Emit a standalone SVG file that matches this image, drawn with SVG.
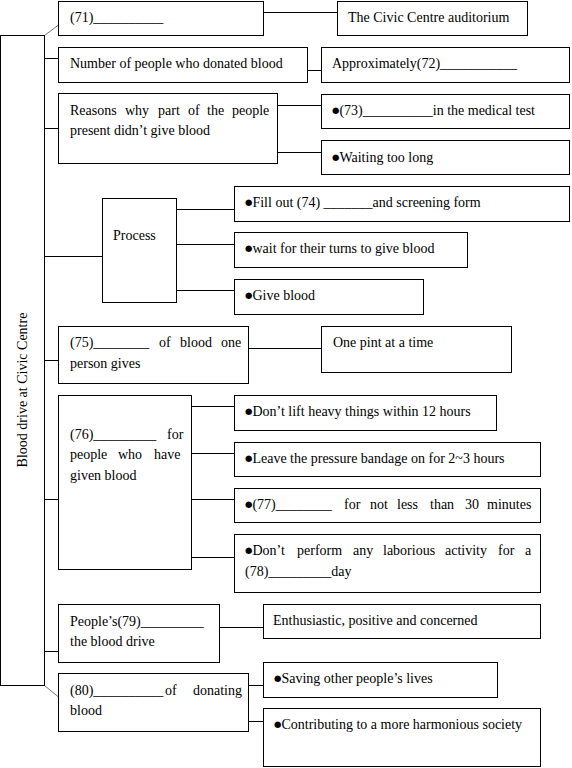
<svg xmlns="http://www.w3.org/2000/svg" width="572" height="768" viewBox="0 0 572 768">
<style>
rect{fill:#fff;stroke:#000;stroke-width:1}
text{font-family:"Liberation Serif","Times New Roman",serif;font-size:14px;fill:#000}
.c line{stroke:#000;stroke-width:1}
.c line.g{stroke:#777}
.b{font-family:"DejaVu Sans",sans-serif;font-size:8.5px;baseline-shift:2px}
</style>
<rect x="0" y="0" width="572" height="768" style="stroke:none"/>
<g class="c" id="connectors">
<line x1="263" y1="12.5" x2="337" y2="12.5"/>
<line x1="44" y1="58.5" x2="58" y2="58.5"/>
<line x1="307" y1="70.5" x2="321" y2="70.5"/>
<line x1="44" y1="128.5" x2="58" y2="128.5"/>
<line x1="277" y1="105.5" x2="321" y2="105.5"/>
<line x1="277" y1="152.5" x2="321" y2="152.5"/>
<line x1="44" y1="256.5" x2="102" y2="256.5"/>
<line x1="176" y1="209.5" x2="234" y2="209.5"/>
<line x1="176" y1="244.5" x2="234" y2="244.5"/>
<line x1="176" y1="290.5" x2="234" y2="290.5"/>
<line x1="44" y1="360.5" x2="58" y2="360.5"/>
<line x1="248" y1="348.5" x2="321" y2="348.5"/>
<line x1="44" y1="499.5" x2="58" y2="499.5"/>
<line x1="191" y1="406.5" x2="234" y2="406.5"/>
<line x1="191" y1="453.5" x2="234" y2="453.5"/>
<line x1="191" y1="499.5" x2="234" y2="499.5"/>
<line x1="191" y1="557.5" x2="234" y2="557.5"/>
<line x1="44" y1="651.5" x2="58" y2="651.5"/>
<line x1="219" y1="627.5" x2="263" y2="627.5"/>
<line x1="248" y1="685.5" x2="263" y2="685.5"/>
<line x1="248" y1="721.5" x2="263" y2="721.5"/>
<line class="g" x1="44.5" y1="35.5" x2="58.5" y2="25"/>
<line class="g" x1="44.5" y1="685.5" x2="58.5" y2="697"/>
</g>
<g id="root">
<rect x="0.5" y="35.5" width="44" height="650"/>
<text transform="translate(27,390) rotate(-90)" text-anchor="middle">Blood drive at Civic Centre</text>
</g>
<g id="n71">
<rect x="58.5" y="1.5" width="205" height="34"/>
<text x="70" y="22">(71)__________</text>
</g>
<g id="civic">
<rect x="337.5" y="1.5" width="190" height="34"/>
<text x="348" y="22">The Civic Centre auditorium</text>
</g>
<g id="number">
<rect x="58.5" y="47.5" width="249" height="35"/>
<text x="70" y="68">Number of people who donated blood</text>
</g>
<g id="n72">
<rect x="321.5" y="47.5" width="248" height="35"/>
<text x="332" y="68">Approximately(72)___________</text>
</g>
<g id="reasons">
<rect x="58.5" y="93.5" width="219" height="70"/>
<text y="115"><tspan x="70">Reasons</tspan><tspan x="125">why</tspan><tspan x="158">part</tspan><tspan x="188">of</tspan><tspan x="207">the</tspan><tspan x="232">people</tspan></text>
<text x="70" y="135">present didn’t give blood</text>
</g>
<g id="n73">
<rect x="321.5" y="94.5" width="248" height="34"/>
<text x="332" y="115"><tspan class="b">●</tspan>(73)__________in the medical test</text>
</g>
<g id="waiting">
<rect x="321.5" y="140.5" width="248" height="34"/>
<text x="332" y="162"><tspan class="b">●</tspan>Waiting too long</text>
</g>
<g id="process">
<rect x="102.5" y="198.5" width="74" height="104"/>
<text x="113" y="240">Process</text>
</g>
<g id="fillout">
<rect x="234.5" y="186.5" width="335" height="35"/>
<text x="245" y="207"><tspan class="b">●</tspan>Fill out (74) _______and screening form</text>
</g>
<g id="wait">
<rect x="234.5" y="232.5" width="233" height="35"/>
<text x="245" y="253"><tspan class="b">●</tspan>wait for their turns to give blood</text>
</g>
<g id="give">
<rect x="234.5" y="279.5" width="189" height="35"/>
<text x="245" y="300"><tspan class="b">●</tspan>Give blood</text>
</g>
<g id="n75">
<rect x="58.5" y="326.5" width="190" height="57"/>
<text y="347"><tspan x="70">(75)________</tspan><tspan x="159">of</tspan><tspan x="180">blood</tspan><tspan x="221">one</tspan></text>
<text x="70" y="368">person gives</text>
</g>
<g id="pint">
<rect x="321.5" y="326.5" width="190" height="46"/>
<text x="333" y="347">One pint at a time</text>
</g>
<g id="n76">
<rect x="58.5" y="395.5" width="133" height="174"/>
<text y="439"><tspan x="70">(76)_________</tspan><tspan x="167">for</tspan></text>
<text y="459"><tspan x="70">people</tspan><tspan x="118">who</tspan><tspan x="154">have</tspan></text>
<text x="70" y="480">given blood</text>
</g>
<g id="lift">
<rect x="234.5" y="395.5" width="262" height="35"/>
<text x="245" y="416"><tspan class="b">●</tspan>Don’t lift heavy things within 12 hours</text>
</g>
<g id="bandage">
<rect x="234.5" y="442.5" width="306" height="34"/>
<text x="245" y="463"><tspan class="b">●</tspan>Leave the pressure bandage on for 2~3 hours</text>
</g>
<g id="n77">
<rect x="234.5" y="488.5" width="306" height="34"/>
<text y="509"><tspan x="245"><tspan class="b">●</tspan>(77)________</tspan><tspan x="344">for</tspan><tspan x="370">not</tspan><tspan x="397">less</tspan><tspan x="430">than</tspan><tspan x="465">30</tspan><tspan x="487">minutes</tspan></text>
</g>
<g id="n78">
<rect x="234.5" y="534.5" width="306" height="58"/>
<text y="555"><tspan x="245"><tspan class="b">●</tspan>Don’t</tspan><tspan x="297">perform</tspan><tspan x="353">any</tspan><tspan x="383">laborious</tspan><tspan x="445">activity</tspan><tspan x="498">for</tspan><tspan x="525">a</tspan></text>
<text x="245" y="576">(78)_________day</text>
</g>
<g id="n79">
<rect x="58.5" y="604.5" width="161" height="58"/>
<text x="70" y="626">People’s(79)_________</text>
<text x="70" y="646">the blood drive</text>
</g>
<g id="enth">
<rect x="263.5" y="604.5" width="277" height="34"/>
<text x="273" y="625">Enthusiastic, positive and concerned</text>
</g>
<g id="n80">
<rect x="58.5" y="673.5" width="190" height="58"/>
<text y="695"><tspan x="70">(80)__________</tspan><tspan x="165">of</tspan><tspan x="193">donating</tspan></text>
<text x="70" y="715">blood</text>
</g>
<g id="saving">
<rect x="263.5" y="662.5" width="234" height="35"/>
<text x="274" y="683"><tspan class="b">●</tspan>Saving other people’s lives</text>
</g>
<g id="contrib">
<rect x="263.5" y="708.5" width="277" height="58"/>
<text x="274" y="729"><tspan class="b">●</tspan>Contributing to a more harmonious society</text>
</g>
</svg>
